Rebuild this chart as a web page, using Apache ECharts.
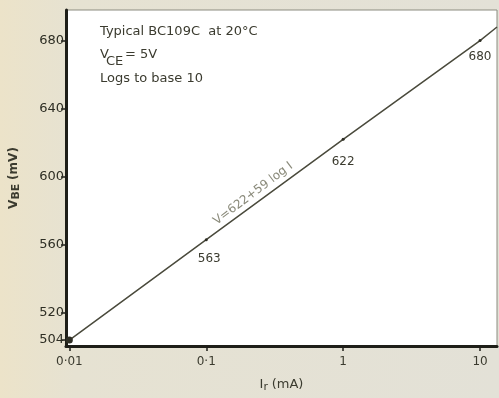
<!DOCTYPE html>
<html>
<head>
<meta charset="utf-8">
<script src="https://cdn.jsdelivr.net/npm/echarts@6/dist/echarts.min.js"></script>
<style>
  html, body { margin: 0; padding: 0; }
  #chart { width: 499px; height: 398px; }
</style>
</head>
<body>
<div id="chart"></div>
<script>
// measured points, I in mA, VBE in mV
const currents = [0.01, 0.1, 1, 10, 13.3]
const voltages = [504, 563, 622, 680, 688]
const pointLabels = ['', '563', '622', '680', '']
const xTicks = [0.01, 0.1, 1, 10]
const xTickLabels = ['0·01', '0·1', '1', '10']
const yTicks = [504, 520, 560, 600, 640, 680]
const equationAt = [0.22, 590]

const ink = '#3b3b2f'
const font = 'DejaVu Sans'
const headFont = '13px "DejaVu Sans"'

const chart = echarts.init(document.getElementById('chart'))

const labelGap = [0, 12, 15, 9, 0]
const lineData = currents.map((c, i) => {
  const item = { value: [c, voltages[i]] }
  if (i === currents.length - 1)
    item.symbol = 'none'
  if (i === 0)
    item.symbolSize = 7
  if (pointLabels[i]) {
    item.label = {
      show: true,
      formatter: pointLabels[i],
      position: 'bottom',
      distance: labelGap[i],
      offset: i === 1 ? [3, 0] : [0, 0],
    }
  }
  return item
})

chart.setOption({
  animation: false,
  textStyle: { fontFamily: font },
  graphic: [
    {
      type: 'rect',
      z: -10,
      silent: true,
      shape: { x: 0, y: 0, width: 499, height: 398 },
      style: {
        fill: new echarts.graphic.LinearGradient(0, 0, 1, 0, [
          { offset: 0, color: '#ece3c9' },
          { offset: 0.15, color: '#e6e2d2' },
          { offset: 1, color: '#e3e1d7' },
        ]),
      },
    },
    { type: 'text', left: 100, top: 25, style: { text: 'Typical BC109C  at 20°C', font: headFont, fill: ink } },
    { type: 'text', left: 100, top: 48, style: { text: 'V', font: headFont, fill: ink } },
    { type: 'text', left: 106, top: 55, style: { text: 'CE', font: headFont, fill: ink } },
    { type: 'text', left: 125, top: 48, style: { text: '= 5V', font: headFont, fill: ink } },
    { type: 'text', left: 100, top: 72, style: { text: 'Logs to base 10', font: headFont, fill: ink } },
  ],
  grid: {
    left: 64,
    right: 2,
    top: 10,
    bottom: 43,
    show: true,
    backgroundColor: '#ffffff',
    borderColor: '#8c8c80',
    borderWidth: 1,
  },
  xAxis: {
    type: 'log',
    logBase: 10,
    min: 0.00945,
    max: 13.3,
    name: '{i|I}{s|r} {i|(mA)}',
    nameLocation: 'middle',
    nameGap: 30,
    nameTextStyle: {
      rich: {
        i: { fontSize: 13, color: ink, fontFamily: font },
        s: { fontSize: 11, color: ink, fontFamily: font, padding: [6, 0, 0, 0] },
      },
    },
    axisLine: { show: true, lineStyle: { color: '#1e1e18', width: 3 } },
    axisTick: {
      show: true,
      customValues: xTicks,
      length: 5,
      lineStyle: { color: '#1e1e18', width: 1.5 },
    },
    axisLabel: {
      customValues: xTicks,
      formatter: v => xTickLabels[xTicks.findIndex(t => Math.abs(t - v) < t * 1e-6)] ?? '',
      color: ink,
      fontSize: 12,
      margin: 10,
    },
    splitLine: { show: false },
    minorTick: { show: false },
  },
  yAxis: {
    type: 'value',
    min: 500.5,
    max: 698,
    name: '{v|V}{s|BE} {v|(mV)}',
    nameLocation: 'middle',
    nameRotate: 90,
    nameGap: 44,
    nameTextStyle: {
      rich: {
        v: { fontSize: 12, color: ink, fontFamily: font, fontWeight: 'bold' },
        s: { fontSize: 11, color: ink, fontFamily: font, fontWeight: 'bold', padding: [5, 0, 0, 0] },
      },
    },
    axisLine: { show: true, lineStyle: { color: '#1e1e18', width: 3 } },
    axisTick: {
      show: true,
      customValues: yTicks,
      length: 5,
      lineStyle: { color: '#1e1e18', width: 1.5 },
    },
    axisLabel: {
      customValues: yTicks,
      color: '#2e2e24',
      fontSize: 13,
      margin: 2,
      padding: [0, 0, 7, 0],
    },
    splitLine: { show: false },
  },
  series: [
    {
      type: 'line',
      data: lineData,
      symbol: 'circle',
      symbolSize: 3,
      itemStyle: { color: '#2e2e24' },
      lineStyle: { color: '#4a4a3c', width: 1.5 },
      label: { color: ink, fontSize: 12 },
    },
    {
      type: 'scatter',
      silent: true,
      symbolSize: 0,
      data: [equationAt],
      label: {
        show: true,
        position: 'inside',
        formatter: 'V=622+59 log I',
        rotate: 37,
        color: '#6b6b58',
        fontSize: 12,
      },
    },
  ],
})
</script>
</body>
</html>
